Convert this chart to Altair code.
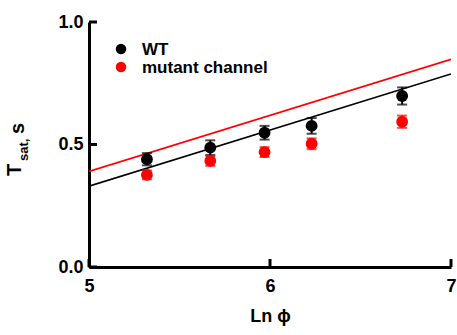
import altair as alt
import pandas as pd

# data
ln_phi = [5.32, 5.67, 5.97, 6.23, 6.73]
wt_t = [0.44, 0.487, 0.548, 0.576, 0.698]
wt_err = [0.025, 0.03, 0.028, 0.032, 0.035]
mut_t = [0.376, 0.433, 0.469, 0.503, 0.593]
mut_err = [0.018, 0.02, 0.02, 0.022, 0.025]
fit_x = [5, 7]
wt_fit = [0.33, 0.788]
mut_fit = [0.39, 0.848]
groups = ["WT", "mutant channel"]
x_ticks = [5.0, 6.0, 7.0]
y_ticks = [0.0, 0.5, 1.0]

FONT = "Liberation Sans"
BLACK = "#000000"
RED = "#ff0000"
W, H = 362, 245

pts = pd.DataFrame({
    "x": ln_phi * 2,
    "y": wt_t + mut_t,
    "lo": [v - e for v, e in zip(wt_t, wt_err)] + [v - e for v, e in zip(mut_t, mut_err)],
    "hi": [v + e for v, e in zip(wt_t, wt_err)] + [v + e for v, e in zip(mut_t, mut_err)],
    "g": [groups[0]] * 5 + [groups[1]] * 5,
})
fits = pd.DataFrame({
    "x": fit_x * 2,
    "y": wt_fit + mut_fit,
    "g": [groups[0]] * 2 + [groups[1]] * 2,
})

color = alt.Color("g:N", scale=alt.Scale(domain=groups, range=[BLACK, RED]), legend=None)
xs = alt.Scale(domain=[5, 7], nice=False, zero=False)
ys = alt.Scale(domain=[0, 1], nice=False)
xax = alt.Axis(values=x_ticks, format=".0f", title="Ln \u03d5", titlePadding=12, ticks=False,
               labelPadding=10, labelOverlap=False)
yax = alt.Axis(values=y_ticks, format=".1f", title=None, ticks=False, labelPadding=6, labelOverlap=False)


def X(f):
    return alt.X(f, type="quantitative", scale=xs, axis=xax)


def Y(f):
    return alt.Y(f, type="quantitative", scale=ys, axis=yax)


lines = alt.Chart(fits).mark_line(strokeWidth=1.7, clip=True).encode(x=X("x"), y=Y("y"), color=color, detail="g:N")
rules = alt.Chart(pts).mark_rule(strokeWidth=2).encode(x=X("x"), y=Y("lo"), y2="hi:Q", color=color)
caps_lo = alt.Chart(pts).mark_tick(orient="horizontal", size=10, thickness=2).encode(x=X("x"), y=Y("lo"), color=color)
caps_hi = alt.Chart(pts).mark_tick(orient="horizontal", size=10, thickness=2).encode(x=X("x"), y=Y("hi"), color=color)
points = alt.Chart(pts).mark_circle(size=140, opacity=1).encode(x=X("x"), y=Y("y"), color=color)

# inward ticks
xt = alt.Chart(pd.DataFrame({"x": x_ticks})).mark_rule(strokeWidth=3, color=BLACK).encode(
    x=X("x"), y=alt.value(H - 8), y2=alt.value(H))
yt = alt.Chart(pd.DataFrame({"y": y_ticks})).mark_rule(strokeWidth=3, color=BLACK).encode(
    y=Y("y"), x=alt.value(0), x2=alt.value(8))

# legend
leg_layers = []
for g, col, yy in [(groups[0], BLACK, 27), (groups[1], RED, 45)]:
    d = pd.DataFrame({"g": [g]})
    leg_layers.append(alt.Chart(d).mark_circle(size=110, opacity=1, color=col).encode(
        x=alt.value(32), y=alt.value(yy)))
    leg_layers.append(alt.Chart(d).mark_text(align="left", baseline="middle", font=FONT, fontWeight="bold",
                                             fontSize=17, color=BLACK).encode(
        x=alt.value(53), y=alt.value(yy + 1), text="g:N"))

# y title with subscript
t_main = alt.Chart(pd.DataFrame({"t": ["T"]})).mark_text(
    angle=270, font=FONT, fontWeight="bold", fontSize=20, align="center", baseline="middle", color=BLACK
).encode(x=alt.value(-74), y=alt.value(148), text="t:N")
t_sub = alt.Chart(pd.DataFrame({"t": ["sat,"]})).mark_text(
    angle=270, font=FONT, fontWeight="bold", fontSize=13, align="left", baseline="middle", color=BLACK
).encode(x=alt.value(-65), y=alt.value(139), text="t:N")
t_s = alt.Chart(pd.DataFrame({"t": ["s"]})).mark_text(
    angle=270, font=FONT, fontWeight="bold", fontSize=20, align="left", baseline="middle", color=BLACK
).encode(x=alt.value(-71), y=alt.value(112), text="t:N")

chart = alt.layer(lines, rules, caps_lo, caps_hi, points, xt, yt, *leg_layers, t_main, t_sub, t_s).properties(
    width=W, height=H,
    autosize=alt.AutoSizeParams(type="none"),
    padding={"left": 89, "top": 22, "right": 6, "bottom": 68},
).configure_view(stroke=None).configure_axis(
    domainColor=BLACK, domainWidth=3,
    labelFont=FONT, labelFontWeight="bold", labelFontSize=18, labelColor=BLACK,
    titleFont=FONT, titleFontWeight="bold", titleFontSize=18, titleColor=BLACK,
    grid=False,
).configure_axisX(labelFlush=False)

chart.save("out.html", embed_options={"renderer": "svg", "actions": False})
